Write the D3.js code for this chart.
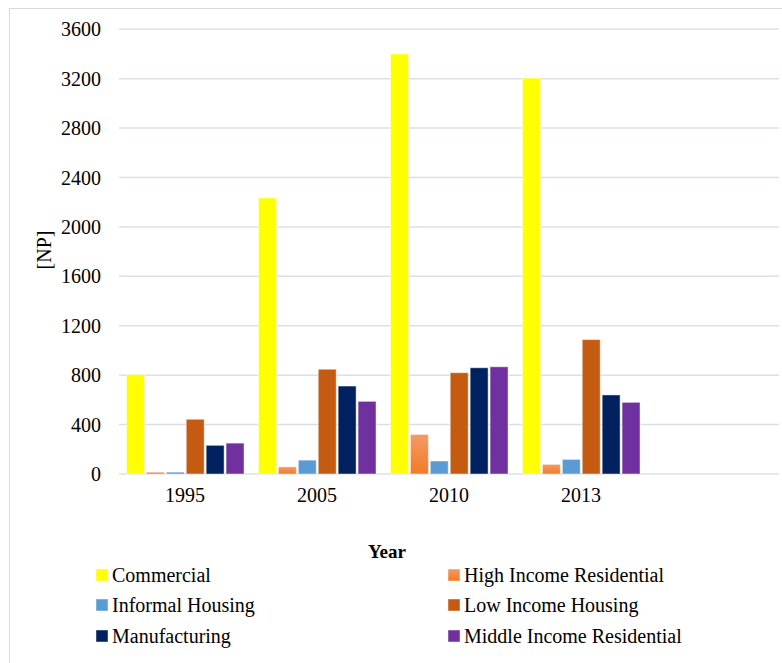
<!DOCTYPE html>
<html>
<head>
<meta charset="utf-8">
<script src="https://cdn.jsdelivr.net/npm/d3@7"></script>
<style>
  html, body { margin: 0; padding: 0; background: #fff; }
  svg { display: block; font-family: "Liberation Serif", "Times New Roman", serif; }
</style>
</head>
<body>
<svg id="chart" width="782" height="663"></svg>
<script>
const categories = ["1995", "2005", "2010", "2013", ""];
const seriesNames = ["Commercial", "High Income Residential", "Informal Housing", "Low Income Housing", "Manufacturing", "Middle Income Residential"];
const commercial = [805, 2235, 3400, 3205];
const highIncome = [15, 58, 320, 78];
const informal = [15, 112, 105, 118];
const lowIncome = [443, 848, 820, 1088];
const manufacturing = [232, 712, 860, 640];
const middleIncome = [250, 588, 868, 580];
const yTicks = [0, 400, 800, 1200, 1600, 2000, 2400, 2800, 3200, 3600];
const colors = ["#FFFF00", "url(#gradHigh)", "#5B9BD5", "#C55A11", "#002060", "#7030A0"];

const seriesValues = [commercial, highIncome, informal, lowIncome, manufacturing, middleIncome];

const svg = d3.select("#chart");

// gradient for High Income Residential
const defs = svg.append("defs");
const grad = defs.append("linearGradient").attr("id", "gradHigh")
  .attr("x1", 0).attr("y1", 0).attr("x2", 0).attr("y2", 1);
grad.append("stop").attr("offset", "0%").attr("stop-color", "#F29B68");
grad.append("stop").attr("offset", "100%").attr("stop-color", "#F47A22");

// outer frame
svg.append("rect").attr("x", 9.5).attr("y", 8.5).attr("width", 800).attr("height", 700)
  .attr("fill", "none").attr("stroke", "#D9D9D9").attr("stroke-width", 1);

const plotLeft = 119, plotRight = 779, plotTop = 29.3, plotBottom = 474;

const y = d3.scaleLinear().domain([0, 3600]).range([plotBottom, plotTop]);
const x0 = d3.scaleBand().domain(categories).range([plotLeft, plotRight]).padding(0);
const x1 = d3.scaleBand().domain(seriesNames).range([7.5, 125]).paddingInner(0.1).paddingOuter(0);

// gridlines
svg.append("g").selectAll("line").data(yTicks).join("line")
  .attr("x1", plotLeft).attr("x2", plotRight)
  .attr("y1", d => y(d)).attr("y2", d => y(d))
  .attr("stroke", "#DCE0E6").attr("stroke-width", 1.5);

// y axis labels
const yAxis = d3.axisLeft(y).tickValues(yTicks).tickSize(0).tickPadding(0).tickFormat(d3.format("d"));
const yg = svg.append("g").attr("transform", `translate(101,0)`).call(yAxis);
yg.select(".domain").remove();
yg.selectAll("text").attr("font-family", "Liberation Serif, serif").attr("font-size", 20).attr("fill", "#000").attr("dy", "0.33em");

// x axis labels
const xAxis = d3.axisBottom(x0).tickSize(0).tickPadding(0);
const xg = svg.append("g").attr("transform", `translate(0,${plotBottom + 14})`).call(xAxis);
xg.select(".domain").remove();
xg.selectAll("text").attr("font-family", "Liberation Serif, serif").attr("font-size", 20).attr("fill", "#000").attr("dy", "0.71em");

// bars
const rows = categories.filter(c => c !== "").map((c, i) => ({
  cat: c,
  vals: seriesNames.map((s, j) => ({ s, j, v: seriesValues[j][i] }))
}));

const groups = svg.append("g").selectAll("g").data(rows).join("g")
  .attr("transform", d => `translate(${x0(d.cat)},0)`);
groups.selectAll("rect").data(d => d.vals).join("rect")
  .attr("x", d => x1(d.s))
  .attr("width", x1.bandwidth())
  .attr("y", d => y(d.v))
  .attr("height", d => y(0) - y(d.v))
  .attr("fill", d => colors[d.j])
  .attr("stroke", "rgba(255,255,255,0.45)")
  .attr("stroke-width", 1);

// y title
svg.append("text").attr("transform", "translate(51,250) rotate(-90)")
  .attr("text-anchor", "middle").attr("font-size", 20).attr("fill", "#000").text("[NP]");

// x title
svg.append("text").attr("x", 387).attr("y", 558)
  .attr("text-anchor", "middle").attr("font-size", 19).attr("font-weight", "bold").attr("fill", "#000").text("Year");

// legend
const legendPos = [[96, 575], [448, 575], [96, 605], [448, 605], [96, 636], [448, 636]];
const lg = svg.append("g").selectAll("g").data(seriesNames).join("g")
  .attr("transform", (d, i) => `translate(${legendPos[i][0]},${legendPos[i][1]})`);
lg.append("rect").attr("x", 0).attr("y", -6).attr("width", 12).attr("height", 12)
  .attr("fill", (d, i) => colors[i]).attr("stroke", "rgba(255,255,255,0.45)").attr("stroke-width", 1);
lg.append("text").attr("x", 16).attr("y", 0).attr("dy", "0.35em")
  .attr("font-size", 20).attr("fill", "#000").text(d => d);
</script>
</body>
</html>
